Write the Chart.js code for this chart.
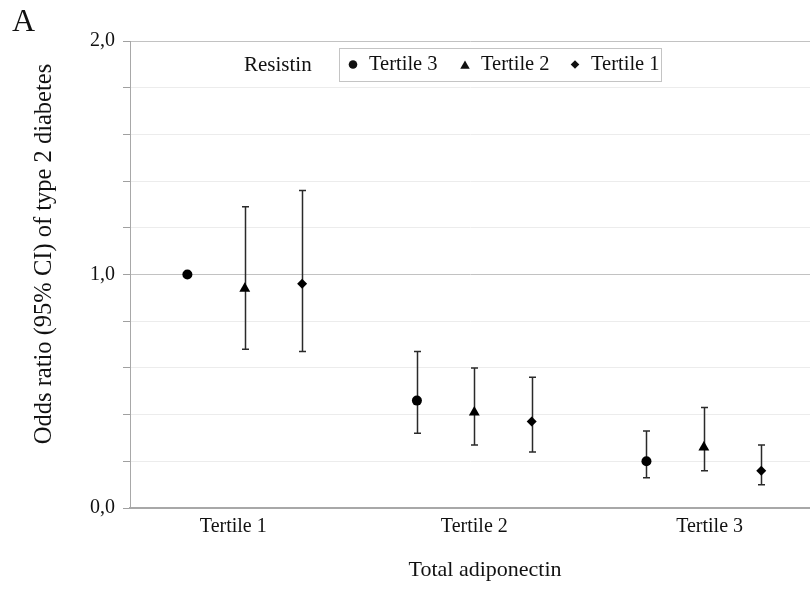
<!DOCTYPE html>
<html>
<head>
<meta charset="utf-8">
<script src="https://cdn.jsdelivr.net/npm/chart.js@4.4.1/dist/chart.umd.min.js"></script>
<style>
  html, body { margin: 0; padding: 0; background: #fff; }
  #wrap { width: 810px; height: 589px; position: relative; }
</style>
</head>
<body>
<div id="wrap"><canvas id="chart-or"></canvas></div>
<script>
// adiponectin tertiles (x categories) and where their labels sit on the x scale
var adipoGroups = ["Tertile 1", "Tertile 2", "Tertile 3"];
var groupTickPos = [1.8, 6, 10.1];

// resistin tertiles (series)
var resistinLabels = ["Tertile 3", "Tertile 2", "Tertile 1"];
var resistinMarkers = ["circle", "triangle", "rectRot"];

// odds ratios with 95% CI, one value per adiponectin tertile
var or3 = [1.00, 0.46, 0.20];
var lo3 = [null, 0.32, 0.13];
var hi3 = [null, 0.67, 0.33];

var or2 = [0.94, 0.41, 0.26];
var lo2 = [0.68, 0.27, 0.16];
var hi2 = [1.29, 0.60, 0.43];

var or1 = [0.96, 0.37, 0.16];
var lo1 = [0.67, 0.24, 0.10];
var hi1 = [1.36, 0.56, 0.27];

var yMajorTicks = [0, 1, 2];

(function(){
  "use strict";
  var FONT = "'Liberation Serif', 'Times New Roman', serif";
  Chart.defaults.font.family = FONT;
  Chart.defaults.color = "#111";

  var orSets = [or3, or2, or1];
  var loSets = [lo3, lo2, lo1];
  var hiSets = [hi3, hi2, hi1];

  var datasets = resistinLabels.map(function(lab, s){
    var r = s === 1 ? 6.3 : 5;
    return {
      label: lab,
      data: orSets[s].map(function(v, g){ return { x: 1 + 4 * g + s, y: v }; }),
      lo: loSets[s],
      hi: hiSets[s],
      pointStyle: resistinMarkers[s],
      pointRadius: r,
      pointHoverRadius: r,
      backgroundColor: "#000",
      borderColor: "#000",
      borderWidth: 0,
      showLine: false
    };
  });

  // CI whiskers, drawn under the markers
  var errorBars = {
    id: "errorBars",
    beforeDatasetsDraw: function(chart){
      var ctx = chart.ctx, xs = chart.scales.x, ys = chart.scales.y;
      ctx.save();
      ctx.strokeStyle = "#2a2a2a";
      ctx.lineWidth = 1.5;
      chart.data.datasets.forEach(function(ds){
        ds.data.forEach(function(p, j){
          if (ds.lo[j] == null) return;
          var x = Math.round(xs.getPixelForValue(p.x)) + 0.5;
          var yl = ys.getPixelForValue(ds.lo[j]);
          var yh = ys.getPixelForValue(ds.hi[j]);
          ctx.beginPath();
          ctx.moveTo(x, yl); ctx.lineTo(x, yh);
          ctx.moveTo(x - 3.5, yl); ctx.lineTo(x + 3.5, yl);
          ctx.moveTo(x - 3.5, yh); ctx.lineTo(x + 3.5, yh);
          ctx.stroke();
        });
      });
      ctx.restore();
    }
  };

  // panel letter, axis titles and the boxed legend
  var decorations = {
    id: "decorations",
    afterDraw: function(chart){
      var ctx = chart.ctx;
      ctx.save();
      ctx.fillStyle = "#111";

      ctx.font = "32px " + FONT;
      ctx.textAlign = "left"; ctx.textBaseline = "alphabetic";
      ctx.fillText("A", 12, 31);

      ctx.save();
      ctx.translate(45, 254);
      ctx.rotate(-Math.PI / 2);
      ctx.font = "24.5px " + FONT;
      ctx.textAlign = "center"; ctx.textBaseline = "middle";
      ctx.fillText("Odds ratio (95% CI) of type 2 diabetes", 0, 0);
      ctx.restore();

      ctx.font = "22px " + FONT;
      ctx.textAlign = "center"; ctx.textBaseline = "middle";
      ctx.fillText("Total adiponectin", 485, 570);

      // legend
      ctx.font = "21px " + FONT;
      ctx.textAlign = "left"; ctx.textBaseline = "middle";
      ctx.fillText("Resistin", 244, 65);

      ctx.strokeStyle = "#c4c4c4";
      ctx.lineWidth = 1;
      ctx.strokeRect(339.5, 48.5, 322, 33);

      var itemX = [353, 465, 575];
      ctx.font = "20.5px " + FONT;
      chart.data.datasets.forEach(function(ds, i){
        Chart.helpers.drawPoint(ctx, {
          pointStyle: ds.pointStyle, rotation: 0,
          radius: ds.pointStyle === "triangle" ? 5.5 : 4.3, borderWidth: 0
        }, itemX[i], ds.pointStyle === "triangle" ? 66 : 64.5);
        ctx.fillStyle = "#111";
        ctx.fillText(ds.label, itemX[i] + 16, 65);
      });
      ctx.restore();
    }
  };

  new Chart(document.getElementById("chart-or"), {
    type: "scatter",
    data: { datasets: datasets },
    plugins: [errorBars, decorations],
    options: {
      responsive: true, maintainAspectRatio: false,
      animation: false,
      layout: { autoPadding: false, padding: { top: 41, right: 0, left: 0, bottom: 0 } },
      plugins: { legend: { display: false }, tooltip: { enabled: false } },
      scales: {
        x: {
          type: "linear", min: 0, max: 11.85,
          afterBuildTicks: function(scale){
            scale.ticks = groupTickPos.map(function(v){ return { value: v }; });
          },
          afterFit: function(scale){
            scale.height = 81;
            scale.paddingRight = 0;
          },
          grid: { display: false, drawTicks: false },
          border: { color: "#a8a8a8", width: 2 },
          ticks: {
            autoSkip: false, maxRotation: 0, padding: 7,
            font: { size: 20 },
            callback: function(v, i){ return adipoGroups[i]; }
          }
        },
        y: {
          min: 0, max: 2,
          afterFit: function(scale){ scale.width = 130; },
          grid: {
            color: function(c){
              var v = c.tick ? c.tick.value : 0;
              return yMajorTicks.indexOf(Math.round(v * 10) / 10) >= 0 ? "#c2c2c2" : "#ececec";
            },
            tickColor: "#a0a0a0",
            tickLength: 7
          },
          border: { color: "#a8a8a8", width: 1 },
          ticks: {
            stepSize: 0.2, autoSkip: false, padding: 8,
            font: { size: 20 },
            callback: function(v){
              var r = Math.round(v * 10) / 10;
              return yMajorTicks.indexOf(r) >= 0 ? r.toFixed(1).replace(".", ",") : "";
            }
          }
        }
      }
    }
  });
})();
</script>
</body>
</html>
